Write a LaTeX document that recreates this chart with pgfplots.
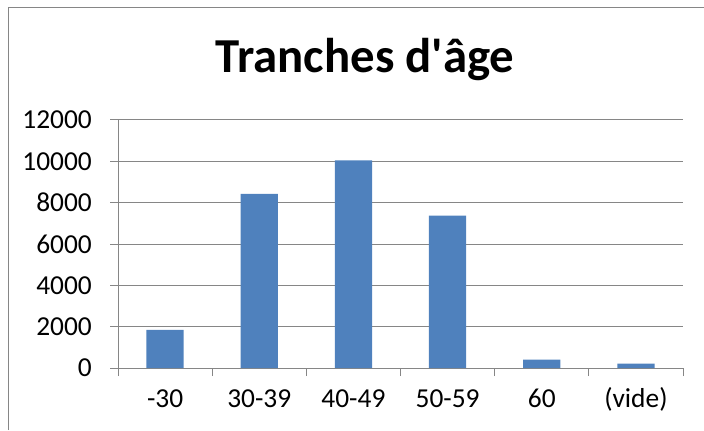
\documentclass[border=0pt]{standalone}
\usepackage{fontspec}
\setmainfont{Carlito}
\usepackage{pgfplots}
\pgfplotsset{compat=1.18}
\definecolor{barblue}{HTML}{4F81BD}
\definecolor{gridgrey}{HTML}{868686}
\begin{document}
\begin{tikzpicture}[x=1bp,y=1bp]
\useasboundingbox (0,0) rectangle (704,430);
\draw[gridgrey, line width=1.5bp] (8.5,0) -- (8.5,422.5) -- (704,422.5);
\node[font=\fontsize{49}{54}\selectfont\bfseries, anchor=base] at (365,358) {Tranches d\textquotesingle âge};
\begin{axis}[
  at={(118bp,62bp)}, anchor=south west,
  scale only axis, width=565bp, height=248bp,
  ybar, bar width=37.3bp,
  xmin=-0.5, xmax=5.5, ymin=0, ymax=12000,
  ytick={0,2000,...,12000},
  scaled y ticks=false,
  xtick={-0.5,0.5,1.5,2.5,3.5,4.5,5.5},
  xticklabels={},
  extra x ticks={0,1,2,3,4,5},
  extra x tick labels={-30,30-39,40-49,50-59,60,(vide)},
  extra x tick style={major tick length=0pt},
  tick align=outside, major tick length=8bp,
  tick style={gridgrey, line width=1bp},
  ymajorgrids, grid style={gridgrey, line width=1bp},
  axis x line*=bottom, axis y line*=left,
  axis line style={gridgrey, line width=1bp, -},
  tick label style={font=\fontsize{27.5}{32}\selectfont, inner sep=0pt},
  /pgf/number format/assume math mode=true,
  /pgf/number format/set thousands separator={},
  yticklabel style={anchor=east, xshift=-18bp},
  xticklabel style={anchor=base, yshift=-39bp},
]
\addplot[fill=barblue, draw=none] coordinates {(0,1850) (1,8420) (2,10050) (3,7370) (4,400) (5,210)};
\end{axis}
\end{tikzpicture}
\end{document}
